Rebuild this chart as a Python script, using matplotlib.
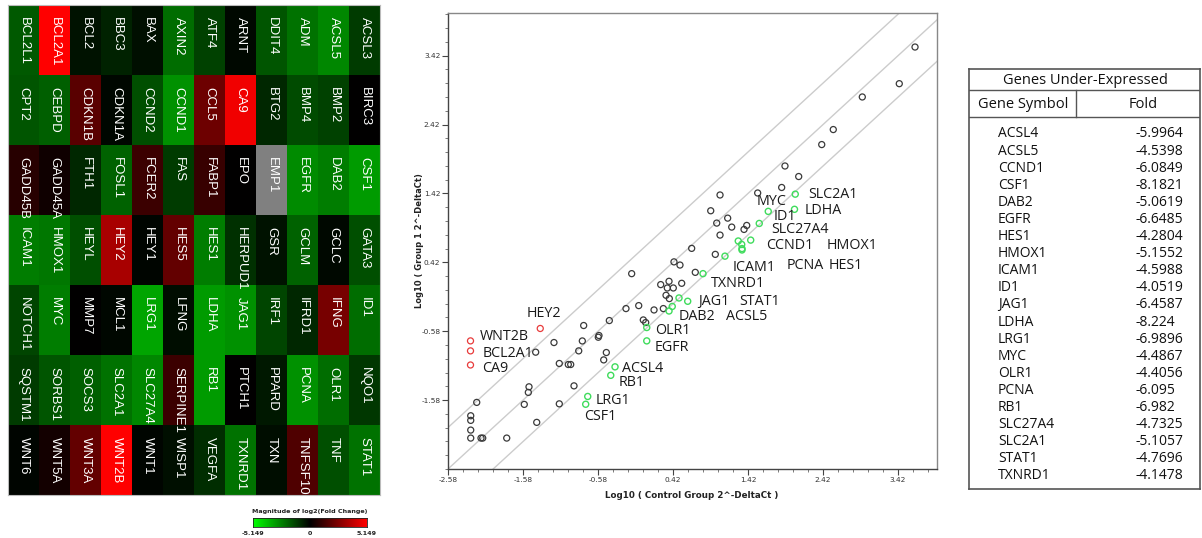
import numpy as np
import matplotlib
matplotlib.use('Agg')
import matplotlib.pyplot as plt
from matplotlib.colors import LinearSegmentedColormap
from matplotlib.ticker import FixedLocator, MultipleLocator

# ---------------- DATA ----------------
# Heatmap (7 rows x 12 columns): gene names and log2(fold change)
heat_genes = [
    ["BCL2L1", "BCL2A1", "BCL2", "BBC3", "BAX", "AXIN2", "ATF4", "ARNT", "DDIT4", "ADM", "ACSL5", "ACSL3"],
    ["CPT2", "CEBPD", "CDKN1B", "CDKN1A", "CCND2", "CCND1", "CCL5", "CA9", "BTG2", "BMP4", "BMP2", "BIRC3"],
    ["GADD45B", "GADD45A", "FTH1", "FOSL1", "FCER2", "FAS", "FABP1", "EPO", "EMP1", "EGFR", "DAB2", "CSF1"],
    ["ICAM1", "HMOX1", "HEYL", "HEY2", "HEY1", "HES5", "HES1", "HERPUD1", "GSR", "GCLM", "GCLC", "GATA3"],
    ["NOTCH1", "MYC", "MMP7", "MCL1", "LRG1", "LFNG", "LDHA", "JAG1", "IRF1", "IFRD1", "IFNG", "ID1"],
    ["SQSTM1", "SORBS1", "SOCS3", "SLC2A1", "SLC27A4", "SERPINE1", "RB1", "PTCH1", "PPARD", "PCNA", "OLR1", "NQO1"],
    ["WNT6", "WNT5A", "WNT3A", "WNT2B", "WNT1", "WISP1", "VEGFA", "TXNRD1", "TXN", "TNFSF10", "TNF", "STAT1"],
]
heat_log2fc = [
    [-1.8, 5.149, -0.4, -0.7, -0.3, -2.2, -1.3, -0.2, -1.7, -2.3, -2.7, -1.2],
    [-1.7, -1.9, 1.8, -0.15, -1.6, -2.9, 2.2, 4.85, -0.8, -1.5, -1.3, 0.02],
    [0.8, 0.3, -0.8, -2.0, 1.2, -1.2, 1.1, 0.0, np.nan, -2.8, -2.5, -3.1],
    [-2.5, -2.4, -1.6, 3.4, -0.1, 2.0, -2.5, -1.0, -0.4, -2.0, -0.2, -1.6],
    [-1.4, -2.5, 0.02, -0.15, -3.3, -0.25, -3.1, -2.9, -1.4, -0.8, 2.4, -2.2],
    [-1.2, -1.7, -1.9, -2.3, -2.7, 1.2, -3.1, 0.02, -0.5, -2.9, -2.2, -1.1],
    [-0.1, 0.4, 2.0, 5.149, -0.1, -0.3, -0.9, -2.3, -0.25, 1.6, -1.6, -2.3],
]
cbar_limit = 5.149
cbar_title = "Magnitude of log2(Fold Change)"
cbar_ticklabels = ["-5.149", "0", "5.149"]

# Scatter: unchanged genes
ns_x = [3.647, 3.437, 2.944, 2.557, 2.403, 1.913, 2.096, 1.869, 1.549, 1.047,
        0.923, 1.003, 1.149, 1.203, 1.047, 1.403, 1.367, 0.669, 0.984, 0.433,
        0.513, -0.131, 0.717, 0.256, 0.367, 0.344, 0.424, 0.536, 0.327, 0.371,
        -0.207, -0.037, 0.167, 0.291, -0.429, 0.024, 0.056, -0.771, -0.567, -0.576,
        -0.789, -1.167, -1.411, -0.837, -0.469, -0.504, -1.096, -0.976, -0.944, -1.500,
        -1.509, -0.900, -2.197, -1.563, -1.096, -2.277, -2.277, -1.397, -2.277, -2.277,
        -2.140, -2.117, -1.797]
ns_y = [3.546, 3.014, 2.821, 2.348, 2.130, 1.819, 1.666, 1.507, 1.427, 1.398,
        1.169, 0.990, 1.062, 0.932, 0.816, 0.956, 0.898, 0.623, 0.536, 0.427,
        0.381, 0.256, 0.275, 0.097, 0.145, 0.048, 0.048, 0.116, -0.058, -0.106,
        -0.251, -0.208, -0.271, -0.251, -0.425, -0.416, -0.454, -0.497, -0.642, -0.667,
        -0.721, -0.744, -0.884, -0.865, -0.889, -0.996, -1.048, -1.063, -1.063, -1.387,
        -1.468, -1.373, -1.613, -1.642, -1.634, -1.807, -1.874, -1.903, -2.015, -2.131,
        -2.131, -2.131, -2.131]

# Over-expressed genes (red)
up_genes = ["WNT2B", "BCL2A1", "CA9", "HEY2"]
up_x = [-2.28, -2.28, -2.28, -1.35]
up_y = [-0.72, -0.865, -1.07, -0.54]
up_label_xy = [(-2.16, -0.66), (-2.12, -0.90), (-2.12, -1.12), (-1.53, -0.32)]

# Under-expressed genes (green)
down_genes = ["SLC2A1", "LDHA", "MYC", "ID1", "SLC27A4", "HMOX1", "CCND1", "PCNA", "HES1",
              "ICAM1", "TXNRD1", "JAG1", "STAT1", "ACSL5", "DAB2", "OLR1", "EGFR",
              "ACSL4", "RB1", "LRG1", "CSF1"]
down_x = [2.05, 2.04, 1.69, 1.57, 1.456, 1.29, 1.336, 1.34, 1.34,
          1.113, 0.82, 0.50, 0.616, 0.41, 0.367, 0.07, 0.07,
          -0.353, -0.41, -0.717, -0.744]
down_y = [1.41, 1.19, 1.16, 0.985, 0.743, 0.73, 0.68, 0.62, 0.60,
          0.51, 0.256, -0.097, -0.145, -0.22, -0.286, -0.526, -0.72,
          -1.097, -1.22, -1.527, -1.64]
down_label_xy = [(2.22, 1.41), (2.17, 1.17), (1.54, 1.31), (1.76, 1.08), (1.73, 0.89),
                 (2.47, 0.66), (1.66, 0.66), (1.94, 0.37), (2.49, 0.37),
                 (1.22, 0.34), (0.93, 0.12), (0.75, -0.145), (1.30, -0.145), (1.13, -0.36),
                 (0.50, -0.36), (0.18, -0.57), (0.17, -0.82),
                 (-0.26, -1.12), (-0.30, -1.32), (-0.61, -1.58), (-0.77, -1.82)]

fold_line_offsets = [-0.602, 0.0, 0.602]
x_ticks = [-2.58, -1.58, -0.58, 0.42, 1.42, 2.42, 3.42]
y_ticks = [-1.58, -0.58, 0.42, 1.42, 2.42, 3.42]
x_label = "Log10 ( Control Group 2^-DeltaCt )"
y_label = "Log10 ( Group 1 2^-DeltaCt)"

# Table
table_title = "Genes Under-Expressed"
table_cols = ["Gene Symbol", "Fold"]
table_genes = ["ACSL4", "ACSL5", "CCND1", "CSF1", "DAB2", "EGFR", "HES1", "HMOX1", "ICAM1",
               "ID1", "JAG1", "LDHA", "LRG1", "MYC", "OLR1", "PCNA", "RB1", "SLC27A4",
               "SLC2A1", "STAT1", "TXNRD1"]
table_fold = ["-5.9964", "-4.5398", "-6.0849", "-8.1821", "-5.0619", "-6.6485", "-4.2804",
              "-5.1552", "-4.5988", "-4.0519", "-6.4587", "-8.224", "-6.9896", "-4.4867",
              "-4.4056", "-6.095", "-6.982", "-4.7325", "-5.1057", "-4.7696", "-4.1478"]

# ---------------- FIGURE ----------------
W, H = 1202, 538
fig = plt.figure(figsize=(W / 100, H / 100), dpi=100)
fig.patch.set_facecolor('white')


def rect(l, t, r, b):
    return [l / W, 1 - b / H, (r - l) / W, (b - t) / H]


LBL_FONT = ['Open Sans', 'DejaVu Sans']

# ---- Heatmap ----
cmap = LinearSegmentedColormap.from_list('gkr', ['#00ff00', '#000000', '#ff0000'])
cmap.set_bad('#808080')
ax_h = fig.add_axes(rect(8, 5, 380, 495))
vals = np.ma.masked_invalid(np.array(heat_log2fc, dtype=float))
ax_h.imshow(vals, cmap=cmap, vmin=-cbar_limit, vmax=cbar_limit, aspect='auto',
            interpolation='nearest')
for i, row in enumerate(heat_genes):
    for j, g in enumerate(row):
        ax_h.text(j, i - 0.5 + 0.17, g, rotation=-90, ha='center', va='top',
                  color='white', fontsize=9.5, family=['Liberation Sans', 'DejaVu Sans'])
ax_h.set_xticks([])
ax_h.set_yticks([])
for s in ax_h.spines.values():
    s.set_color('#bbbbbb')
    s.set_linewidth(0.8)

# ---- Colorbar ----
ax_cb = fig.add_axes(rect(253, 518, 367, 527))
ax_cb.imshow(np.linspace(-cbar_limit, cbar_limit, 256)[None, :], cmap=cmap,
             vmin=-cbar_limit, vmax=cbar_limit, aspect='auto',
             extent=[-cbar_limit, cbar_limit, 0, 1])
ax_cb.set_xticks([])
ax_cb.set_yticks([])
for s in ax_cb.spines.values():
    s.set_color('#222222')
    s.set_linewidth(0.6)
fig.text(310 / W, 1 - 511 / H, cbar_title, ha='center', va='center', fontsize=4.6,
         fontweight='bold', color='#222222')
for frac, lab in zip([0.0, 0.5, 1.0], cbar_ticklabels):
    fig.text((253 + frac * 114) / W, 1 - 533.5 / H, lab, ha='center', va='center',
             fontsize=4.6, fontweight='bold', color='#222222')

# ---- Scatter ----
ax = fig.add_axes(rect(448, 13, 937, 469))
ax.set_xlim(-2.58, 3.94)
ax.set_ylim(-2.58, 4.04)
lx = np.array([-2.58, 3.94])
for off in fold_line_offsets:
    ax.plot(lx, lx + off, color='#cccccc', lw=1.0, zorder=1)
ax.scatter(ns_x, ns_y, s=19, facecolors='none', edgecolors='#3a3a3a', linewidths=0.9, zorder=3)
ax.scatter(up_x, up_y, s=19, facecolors='none', edgecolors='#e83b3b', linewidths=0.9, zorder=3)
ax.scatter(down_x, down_y, s=19, facecolors='none', edgecolors='#3fdc5c', linewidths=1.0, zorder=3)
for g, (tx, ty) in zip(up_genes, up_label_xy):
    ax.text(tx, ty, g, ha='left', va='center', fontsize=10.3, family=LBL_FONT, color='#1a1a1a', zorder=4)
for g, (tx, ty) in zip(down_genes, down_label_xy):
    ax.text(tx, ty, g, ha='left', va='center', fontsize=10.3, family=LBL_FONT, color='#1a1a1a', zorder=4)

ax.xaxis.set_major_locator(FixedLocator(x_ticks))
ax.yaxis.set_major_locator(FixedLocator(y_ticks))
ax.set_xticklabels([f"{v:.2f}" for v in x_ticks])
ax.set_yticklabels([f"{v:.2f}" for v in y_ticks])
ax.xaxis.set_minor_locator(MultipleLocator(0.2, offset=0.02))
ax.yaxis.set_minor_locator(MultipleLocator(0.2, offset=0.02))
ax.tick_params(which='major', direction='out', length=4, width=0.8, color='#444444',
               labelsize=5.3, labelcolor='#333333', pad=1.5)
ax.tick_params(which='minor', direction='out', length=2.2, width=0.6, color='#666666')
ax.tick_params(top=False, right=False, which='both')
for side in ['left', 'bottom']:
    ax.spines[side].set_color('#444444')
    ax.spines[side].set_linewidth(1.0)
for side in ['top', 'right']:
    ax.spines[side].set_color('#888888')
    ax.spines[side].set_linewidth(1.0)
fig.text(692 / W, 1 - 495 / H, x_label, ha='center', va='center', fontsize=6.3,
         fontweight='bold', color='#222222')
fig.text(419 / W, 1 - 241 / H, y_label, ha='center', va='center', rotation=90,
         fontsize=6.0, fontweight='bold', color='#222222')

# ---- Table ----
ax_t = fig.add_axes(rect(969, 69, 1200, 489))
ax_t.set_xlim(969, 1200)
ax_t.set_ylim(489, 69)
ax_t.set_xticks([])
ax_t.set_yticks([])
for s in ax_t.spines.values():
    s.set_color('#555555')
    s.set_linewidth(1.2)
ax_t.plot([969, 1200], [90, 90], color='#555555', lw=1.0)
ax_t.plot([969, 1200], [117, 117], color='#555555', lw=1.0)
ax_t.plot([1076, 1076], [90, 117], color='#555555', lw=1.0)
ax_t.text(1085, 80.5, table_title, ha='center', va='center', fontsize=10.5, family=LBL_FONT, color='#111111')
ax_t.text(1023, 104.5, table_cols[0], ha='center', va='center', fontsize=10.5, family=LBL_FONT, color='#111111')
ax_t.text(1143, 104.5, table_cols[1], ha='center', va='center', fontsize=10.5, family=LBL_FONT, color='#111111')
for i, (g, f) in enumerate(zip(table_genes, table_fold)):
    yy = 134 + 17.1 * i
    ax_t.text(998, yy, g, ha='left', va='center', fontsize=10, family=LBL_FONT, color='#111111')
    ax_t.text(1135, yy, f, ha='left', va='center', fontsize=10, family=LBL_FONT, color='#111111')

fig.savefig('out.png', dpi=100)
